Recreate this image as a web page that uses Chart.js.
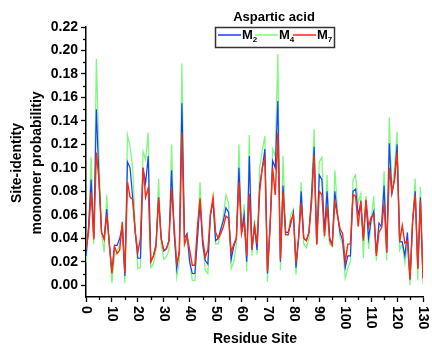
<!DOCTYPE html>
<html>
<head>
<meta charset="utf-8">
<script src="https://cdn.jsdelivr.net/npm/chart.js@4"></script>
<style>
  html, body { margin: 0; padding: 0; background: #fff; }
  #wrap { width: 432px; height: 347px; position: relative; }
</style>
</head>
<body>
<div id="wrap"><canvas id="chart" width="432" height="347"></canvas></div>
<script>
const residueSites = Array.from({ length: 131 }, (_, i) => i);

const m2 = [
    0.025, 0.05, 0.09, 0.04, 0.15, 0.09, 0.045, 0.04, 0.065, 0.035,
    0.012, 0.034, 0.034, 0.04, 0.05, 0.008, 0.105, 0.1, 0.075, 0.045,
    0.023, 0.023, 0.1, 0.087, 0.11, 0.02, 0.025, 0.035, 0.075, 0.04,
    0.029, 0.031, 0.038, 0.098, 0.045, 0.014, 0.03, 0.155, 0.04, 0.044,
    0.02, 0.01, 0.01, 0.04, 0.07, 0.035, 0.021, 0.018, 0.06, 0.072,
    0.038, 0.04, 0.048, 0.055, 0.066, 0.062, 0.022, 0.033, 0.04, 0.1,
    0.045, 0.06, 0.02, 0.11, 0.03, 0.05, 0.03, 0.085, 0.1, 0.116,
    0.01, 0.05, 0.106, 0.1, 0.157, 0.02, 0.085, 0.045, 0.045, 0.052,
    0.062, 0.015, 0.04, 0.08, 0.04, 0.038, 0.045, 0.075, 0.118, 0.035,
    0.094, 0.09, 0.045, 0.08, 0.04, 0.035, 0.08, 0.06, 0.045, 0.038,
    0.015, 0.025, 0.025, 0.08, 0.082, 0.06, 0.07, 0.04, 0.072, 0.04,
    0.056, 0.063, 0.027, 0.053, 0.05, 0.085, 0.028, 0.121, 0.078, 0.09,
    0.12, 0.037, 0.037, 0.025, 0.045, 0.005, 0.055, 0.08, 0.014, 0.075,
    0.006
];

const m4 = [
    0.019, 0.05, 0.109, 0.035, 0.193, 0.11, 0.045, 0.028, 0.077, 0.035,
    0.002, 0.025, 0.028, 0.035, 0.05, 0.002, 0.128, 0.118, 0.1, 0.05,
    0.014, 0.015, 0.114, 0.107, 0.13, 0.015, 0.018, 0.03, 0.091, 0.035,
    0.022, 0.024, 0.03, 0.12, 0.045, 0.007, 0.02, 0.189, 0.035, 0.04,
    0.02, 0.004, 0.004, 0.04, 0.088, 0.035, 0.013, 0.01, 0.06, 0.07,
    0.035, 0.035, 0.045, 0.06, 0.077, 0.07, 0.014, 0.02, 0.035, 0.12,
    0.045, 0.069, 0.012, 0.128, 0.025, 0.056, 0.026, 0.1, 0.115, 0.127,
    0.003, 0.05, 0.116, 0.11, 0.197, 0.013, 0.11, 0.045, 0.045, 0.06,
    0.065, 0.009, 0.04, 0.088, 0.035, 0.032, 0.04, 0.08, 0.133, 0.034,
    0.105, 0.109, 0.04, 0.094, 0.035, 0.033, 0.098, 0.065, 0.04, 0.035,
    0.006, 0.015, 0.02, 0.09, 0.094, 0.07, 0.078, 0.023, 0.076, 0.031,
    0.055, 0.076, 0.021, 0.05, 0.05, 0.097, 0.021, 0.143, 0.08, 0.1,
    0.131, 0.03, 0.035, 0.019, 0.035, 0.0, 0.055, 0.091, 0.004, 0.084,
    0.001
];

const m7 = [
    0.031, 0.045, 0.079, 0.039, 0.113, 0.09, 0.045, 0.039, 0.06, 0.035,
    0.01, 0.033, 0.027, 0.03, 0.054, 0.01, 0.088, 0.075, 0.073, 0.045,
    0.028, 0.04, 0.1, 0.075, 0.083, 0.02, 0.025, 0.033, 0.074, 0.04,
    0.03, 0.031, 0.038, 0.082, 0.05, 0.019, 0.027, 0.13, 0.035, 0.042,
    0.03, 0.017, 0.017, 0.05, 0.074, 0.04, 0.024, 0.03, 0.06, 0.075,
    0.045, 0.04, 0.044, 0.05, 0.059, 0.057, 0.028, 0.035, 0.04, 0.088,
    0.044, 0.055, 0.025, 0.078, 0.031, 0.051, 0.035, 0.08, 0.1, 0.108,
    0.012, 0.05, 0.1, 0.077, 0.13, 0.022, 0.08, 0.043, 0.043, 0.055,
    0.06, 0.019, 0.04, 0.07, 0.04, 0.038, 0.045, 0.07, 0.111, 0.035,
    0.08, 0.077, 0.042, 0.067, 0.038, 0.034, 0.071, 0.06, 0.048, 0.044,
    0.02, 0.035, 0.035, 0.077, 0.076, 0.05, 0.072, 0.038, 0.073, 0.05,
    0.058, 0.06, 0.025, 0.045, 0.049, 0.07, 0.028, 0.1, 0.079, 0.09,
    0.113, 0.037, 0.051, 0.036, 0.038, 0.005, 0.055, 0.077, 0.014, 0.072,
    0.006
];

const xTicks = [0, 10, 20, 30, 40, 50, 60, 70, 80, 90, 100, 110, 120, 130];
const yTicks = [0, 0.02, 0.04, 0.06, 0.08, 0.1, 0.12, 0.14, 0.16, 0.18, 0.2, 0.22];

const seriesNames = ["M2", "M4", "M7"];
const seriesSubs = ["2", "4", "7"];
const seriesColors = ["#1c3cff", "#80f880", "#ff2a10"];

const FONT = "'Liberation Sans', Arial, sans-serif";

function toPoints(values) {
    return values.map((v, i) => ({ x: residueSites[i], y: v }));
}

// extra drawing: minor ticks, clockwise x labels, axis titles, legend box
const decorPlugin = {
    id: "decor",
    afterDraw(chart) {
        const ctx = chart.ctx;
        const xs = chart.scales.x;
        const ys = chart.scales.y;
        const area = chart.chartArea;

        ctx.save();
        ctx.strokeStyle = "#000";
        ctx.lineWidth = 1.3;

        // minor ticks
        for (let v = 5; v < 130; v += 10) {
            const px = Math.round(xs.getPixelForValue(v)) + 0.5;
            ctx.beginPath();
            ctx.moveTo(px, area.bottom);
            ctx.lineTo(px, area.bottom + 3);
            ctx.stroke();
        }
        for (let k = 1; k <= 21; k += 2) {
            const py = Math.round(ys.getPixelForValue(k / 100)) + 0.5;
            ctx.beginPath();
            ctx.moveTo(area.left, py);
            ctx.lineTo(area.left - 3, py);
            ctx.stroke();
        }

        ctx.fillStyle = "#000";

        // x tick labels, turned clockwise
        ctx.font = "bold 14px " + FONT;
        ctx.textAlign = "left";
        ctx.textBaseline = "middle";
        for (const v of xTicks) {
            const px = xs.getPixelForValue(v);
            ctx.save();
            ctx.translate(px, area.bottom + 9);
            ctx.rotate(Math.PI / 2);
            ctx.fillText(String(v), 0, 0);
            ctx.restore();
        }

        // axis titles
        ctx.textAlign = "center";
        ctx.font = "bold 14px " + FONT;
        ctx.fillText("Residue Site", 255, 339);

        ctx.save();
        ctx.translate(17, 163);
        ctx.rotate(-Math.PI / 2);
        ctx.fillText("Site-identity", 0, 0);
        ctx.restore();
        ctx.save();
        ctx.translate(37, 163);
        ctx.rotate(-Math.PI / 2);
        ctx.fillText("monomer probabilitiy", 0, 0);
        ctx.restore();

        // title
        ctx.font = "bold 13px " + FONT;
        ctx.fillText("Aspartic acid", 274, 17);

        // legend
        ctx.strokeStyle = "#333";
        ctx.lineWidth = 1.5;
        ctx.strokeRect(215.5, 27.5, 119, 20);
        const lineStarts = [218, 255, 293];
        for (let i = 0; i < seriesNames.length; i++) {
            const x0 = lineStarts[i];
            ctx.strokeStyle = seriesColors[i];
            ctx.lineWidth = 1.5;
            ctx.beginPath();
            ctx.moveTo(x0, 35);
            ctx.lineTo(x0 + 23, 35);
            ctx.stroke();
            ctx.fillStyle = "#000";
            ctx.textAlign = "left";
            ctx.font = "bold 13px " + FONT;
            ctx.fillText("M", x0 + 24, 35);
            const w = ctx.measureText("M").width;
            ctx.font = "bold 8px " + FONT;
            ctx.fillText(seriesSubs[i], x0 + 24 + w, 40);
        }

        ctx.restore();
    }
};

new Chart(document.getElementById("chart"), {
    type: "line",
    data: {
        datasets: [
            {
                label: seriesNames[0],
                data: toPoints(m2),
                borderColor: seriesColors[0],
                borderWidth: 1.2,
                pointRadius: 0,
                tension: 0,
                order: 1
            },
            {
                label: seriesNames[1],
                data: toPoints(m4),
                borderColor: seriesColors[1],
                borderWidth: 1.3,
                pointRadius: 0,
                tension: 0,
                order: 2
            },
            {
                label: seriesNames[2],
                data: toPoints(m7),
                borderColor: seriesColors[2],
                borderWidth: 1.4,
                pointRadius: 0,
                tension: 0,
                order: 0
            }
        ]
    },
    options: {
        responsive: false,
        animation: false,
        devicePixelRatio: 1,
        layout: {
            padding: { top: 27, right: 9, left: 0, bottom: 0 }
        },
        scales: {
            x: {
                type: "linear",
                min: 0,
                max: 130,
                border: { color: "#000", width: 1.5 },
                grid: { drawOnChartArea: false, tickLength: 5, tickColor: "#000", tickWidth: 1.3 },
                ticks: { display: false, stepSize: 10, autoSkip: false },
                afterBuildTicks: (scale) => { scale.ticks = xTicks.map(v => ({ value: v })); },
                afterFit: (scale) => { scale.height = 50; }
            },
            y: {
                min: -0.01,
                max: 0.22,
                border: { color: "#000", width: 1.5 },
                grid: { drawOnChartArea: false, tickLength: 5, tickColor: "#000", tickWidth: 1.3 },
                ticks: {
                    color: "#000",
                    padding: 3,
                    font: { family: FONT, size: 14, weight: "bold" },
                    callback: (v) => Number(v).toFixed(2)
                },
                afterBuildTicks: (scale) => { scale.ticks = yTicks.map(v => ({ value: v })); },
                afterFit: (scale) => { scale.width = 86; }
            }
        },
        plugins: {
            legend: { display: false },
            tooltip: { enabled: false }
        }
    },
    plugins: [decorPlugin]
});
</script>
</body>
</html>
